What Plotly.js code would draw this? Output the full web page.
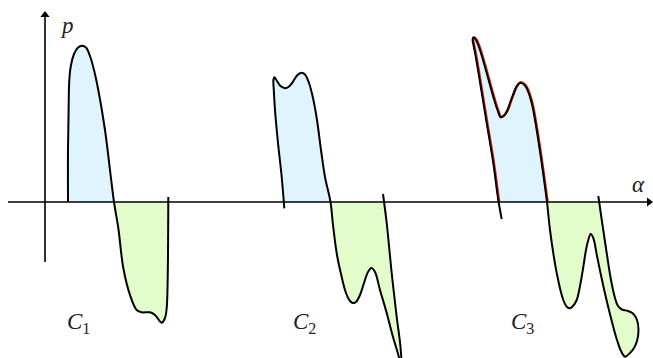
<!DOCTYPE html>
<html>
<head>
<meta charset="utf-8">
<script src="https://cdn.plot.ly/plotly-3.0.1.min.js"></script>
<style>html,body{margin:0;padding:0;background:#fff;}#chart{width:653px;height:358px;}</style>
</head>
<body>
<div id="chart"></div>
<script>
// Curve C1 (alpha, p)
const c1Alpha = [68, 68, 68.6, 69.3, 71, 74, 78, 82, 86, 90, 94, 98.3, 105, 110, 114, 118.3, 123.3, 130, 136.7, 141.7, 150, 155, 161.7, 165, 166.7, 167.7, 168.3];
const c1P     = [0, 52, 92, 122, 137, 148, 154.5, 156.3, 154.5, 146, 132, 112, 72, 32, 0, -26, -66, -93, -108, -110.3, -110.3, -113, -120.7, -116, -106, -76, 5];

// Curve C2
const c2Alpha = [284.3, 281.7, 278, 275, 273.8, 273.4, 274.3, 276.7, 280, 285, 289, 293, 297, 301.5, 305, 309, 313, 317, 321, 325, 330.5, 333, 337, 341.7, 346, 350, 353, 356, 360, 364, 368, 371.5, 375, 380, 386.7, 393, 397.5, 401.5, 400.3, 396.7, 391.7, 386.7, 383];
const c2P     = [-6.3, 25, 59, 92, 112, 122, 124.7, 121.5, 116.5, 113.7, 115.5, 120.3, 126.5, 129.3, 127.5, 119, 104, 82, 52, 25, 0, -23, -53, -75, -91, -99, -101, -100, -93, -81, -70, -66, -70, -88, -111, -135, -150, -164, -143, -115, -71, -21, 8];

// Curve C3
const c3Alpha = [501.7, 498.3, 493.3, 486.7, 480, 476, 473.5, 472.6, 473.5, 476, 480, 486.7, 493.3, 497.5, 500.7, 504, 507, 510, 513.3, 516.5, 520, 523.5, 526.7, 531.7, 536.7, 541.7, 547, 550, 556.7, 563.3, 567, 570, 573, 576.7, 580, 583.3, 586, 588.3, 590.7, 593.3, 597, 602, 607, 612, 617, 621, 625, 630, 634, 637, 638.5, 637, 633, 628, 622, 618, 615, 611, 606.7, 602.5, 598.3];
const c3P     = [-17, 2, 39, 79, 120, 144, 157, 162.5, 164.5, 162, 152, 129, 105.3, 92, 84.7, 86.5, 91, 99, 108, 115.5, 119.3, 118, 113.7, 99, 72, 39, 0, -28, -71, -98, -105, -106.3, -104, -98, -84, -65, -48, -38, -32, -36, -54, -78, -100, -120, -138, -149, -154.7, -151, -146, -139, -128, -118, -111.5, -109, -107.5, -104, -96, -78, -51, -23, 6];

const curveLabels = ['<i>C</i><sub>1</sub>', '<i>C</i><sub>2</sub>', '<i>C</i><sub>3</sub>'];
const axisLabels = ['<i>α</i>', '<i>p</i>'];

const POS_FILL = '#dff4fd';
const NEG_FILL = '#e3fccc';

function splitRuns(xs, ys) {
  const runs = [];
  let cur = null;
  for (let i = 0; i < xs.length; i++) {
    const x = xs[i], y = ys[i];
    const s = y > 0 ? 1 : (y < 0 ? -1 : 0);
    if (!cur) { cur = {s: s, x: [x], y: [y]}; runs.push(cur); continue; }
    if (cur.s === 0) { cur.s = s; cur.x.push(x); cur.y.push(y); continue; }
    if (s === 0 || s === cur.s) { cur.x.push(x); cur.y.push(y); continue; }
    const px = cur.x[cur.x.length - 1], py = cur.y[cur.y.length - 1];
    let xc = px;
    if (py !== 0) {
      const t = py / (py - y);
      xc = px + t * (x - px);
      cur.x.push(xc); cur.y.push(0);
    }
    cur = {s: s, x: [xc, x], y: [0, y]};
    runs.push(cur);
  }
  return runs;
}

const curves = [[c1Alpha, c1P], [c2Alpha, c2P], [c3Alpha, c3P]];
const traces = [];
curves.forEach(([xs, ys]) => {
  splitRuns(xs, ys).forEach(r => {
    if (r.s === 0 || r.x.length < 3) return;
    traces.push({x: r.x, y: r.y, type: 'scatter', mode: 'lines', fill: 'toself',
      fillcolor: r.s > 0 ? POS_FILL : NEG_FILL, line: {width: 0, shape: 'spline'}, hoverinfo: 'skip'});
  });
});
// red highlight of upper part of C3 (slightly offset outward)
splitRuns(c3Alpha, c3P).forEach(r => {
  if (r.s > 0 && r.x.length >= 3) {
    traces.push({x: r.x.map(v => v + 0.6), y: r.y.map(v => v + 0.4), type: 'scatter', mode: 'lines',
      line: {color: '#e8260c', width: 2.4, shape: 'spline'}, hoverinfo: 'skip'});
  }
});
curves.forEach(([xs, ys]) => {
  traces.push({x: xs, y: ys, type: 'scatter', mode: 'lines',
    line: {color: '#000', width: 2, shape: 'spline'}, hoverinfo: 'skip'});
});

// axes with arrowheads
traces.push({x: [8, 647], y: [0, 0], type: 'scatter', mode: 'lines', line: {color: '#000', width: 1.6}, hoverinfo: 'skip'});
traces.push({x: [45, 45], y: [-60, 186], type: 'scatter', mode: 'lines', line: {color: '#000', width: 1.6}, hoverinfo: 'skip'});
traces.push({x: [649], y: [0], type: 'scatter', mode: 'markers', cliponaxis: false,
  marker: {symbol: 'triangle-right', size: 8, color: '#000'}, hoverinfo: 'skip'});
traces.push({x: [45], y: [187], type: 'scatter', mode: 'markers', cliponaxis: false,
  marker: {symbol: 'triangle-up', size: 8, color: '#000'}, hoverinfo: 'skip'});

const serif = {family: 'Liberation Serif, DejaVu Serif, serif', size: 23, color: '#222'};
const annotations = [
  {x: 638, y: 18, xref: 'x', yref: 'y', text: axisLabels[0], showarrow: false, font: serif},
  {x: 67, y: 177, xref: 'x', yref: 'y', text: axisLabels[1], showarrow: false, font: serif},
  {x: 78, y: -121, xref: 'x', yref: 'y', text: curveLabels[0], showarrow: false, font: serif},
  {x: 304, y: -121, xref: 'x', yref: 'y', text: curveLabels[1], showarrow: false, font: serif},
  {x: 522, y: -121, xref: 'x', yref: 'y', text: curveLabels[2], showarrow: false, font: serif}
];

const layout = {
  width: 653, height: 358,
  margin: {l: 0, r: 0, t: 0, b: 0},
  paper_bgcolor: '#fff', plot_bgcolor: '#fff',
  showlegend: false,
  xaxis: {range: [0, 653], visible: false, fixedrange: true},
  yaxis: {range: [-156, 202], visible: false, fixedrange: true},
  annotations: annotations
};
Plotly.newPlot('chart', traces, layout, {staticPlot: true, displayModeBar: false});
</script>
</body>
</html>
